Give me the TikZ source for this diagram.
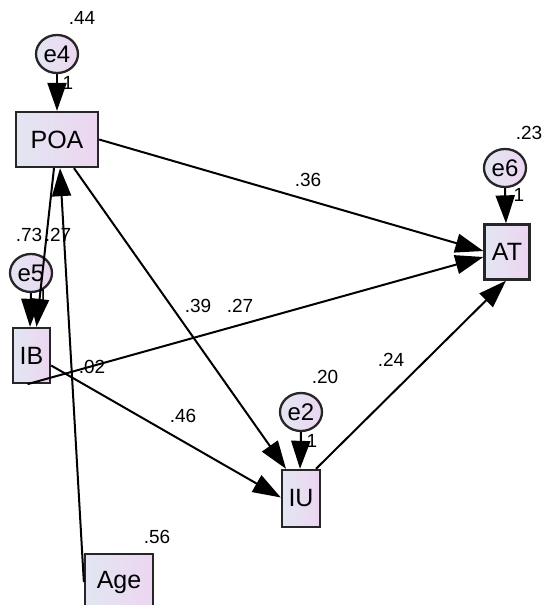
\documentclass[tikz,border=0pt]{standalone}
\usepackage{fontspec}
\setmainfont{Liberation Sans}
\usetikzlibrary{shapes.geometric,arrows.meta,calc}
\definecolor{fillA}{HTML}{E2E6F2}
\definecolor{fillB}{HTML}{EDD5F1}
\definecolor{edgeC}{HTML}{262626}
\tikzset{
  obsbox/.style={draw=edgeC, line width=2.3pt, left color=fillA, right color=fillB,
    inner sep=0pt, font=\fontsize{25}{25}\selectfont},
  errnode/.style={ellipse, draw=edgeC, line width=2.3pt, left color=fillA, right color=fillB,
    inner sep=0pt, minimum width=42pt, minimum height=38pt, font=\fontsize{24}{24}\selectfont},
  numlab/.style={inner sep=0pt, font=\fontsize{19}{19}\selectfont},
  path/.style={line width=2pt, -{Triangle[length=28pt,width=19pt]}},
}
\begin{document}
\begin{tikzpicture}[x=1pt,y=-1pt]
\useasboundingbox (0,0) rectangle (544,605);
% observed variables
\node[obsbox, minimum width=82pt, minimum height=55pt] (POA) at (57,139.5) {POA};
\node[obsbox, minimum width=37pt, minimum height=55pt] (IB) at (31.5,355.5) {IB};
\node[obsbox, minimum width=45pt, minimum height=55pt] (AT) at (507,252) {AT};
\node[obsbox, minimum width=38pt, minimum height=57pt] (IU) at (301,498.5) {IU};
\node[obsbox, minimum width=68pt, minimum height=56pt] (Age) at (119,582) {Age};
% error terms
\node[errnode] (e4) at (57,54) {e4};
\node[errnode] (e5) at (31,273) {e5};
\node[errnode] (e6) at (505,168) {e6};
\node[errnode] (e2) at (301,412) {e2};
% paths
\draw[path] (e4.south) -- (POA.north);
\draw[path] (e6.south) -- ($(AT.north)+(-1,0)$);
\draw[path] (e2.south) -- ($(IU.north)+(-1,0)$);
\draw[path] (e5.south) -- ($(IB.north)+(-1.5,0)$);
\draw[path] ($(POA.south)+(-3,0)$) -- ($(IB.north)+(5,0)$);
\draw[path] (Age.west) -- ($(POA.south)+(3,0)$);
\draw[path] (POA.east) -- ($(AT.west)+(0,-1)$);
\draw[path] ($(IB.south)+(-4,0)$) -- ($(AT.west)+(0,5)$);
\draw[path] ($(POA.south)+(17,0)$) -- ($(IU.north)+(-15,0)$);
\draw[path] ($(IB.east)+(0,10)$) -- ($(IU.west)+(0,-1)$);
\draw[path] ($(IU.north)+(15,0)$) -- ($(AT.south)+(-1,0)$);
% labels
\node[numlab] (l44) at (82,18) {.44};
\node[numlab] (l1a) at (68,83) {1};
\node[numlab] (l73) at (29,235) {.73};
\node[numlab] (l27a) at (58,235) {.27};
\node[numlab] (l1b) at (43,296) {1};
\node[numlab] (l02) at (92,367) {.02};
\node[numlab] (l39) at (198,306) {.39};
\node[numlab] (l27b) at (240,306) {.27};
\node[numlab] (l36) at (308,180) {.36};
\node[numlab] (l24) at (391,360) {.24};
\node[numlab] (l46) at (183,416) {.46};
\node[numlab] (l20) at (325,377) {.20};
\node[numlab] (l1c) at (312,441) {1};
\node[numlab] (l23) at (529,133) {.23};
\node[numlab] (l1d) at (519,195) {1};
\node[numlab] (l56) at (157,537) {.56};
\end{tikzpicture}
\end{document}
